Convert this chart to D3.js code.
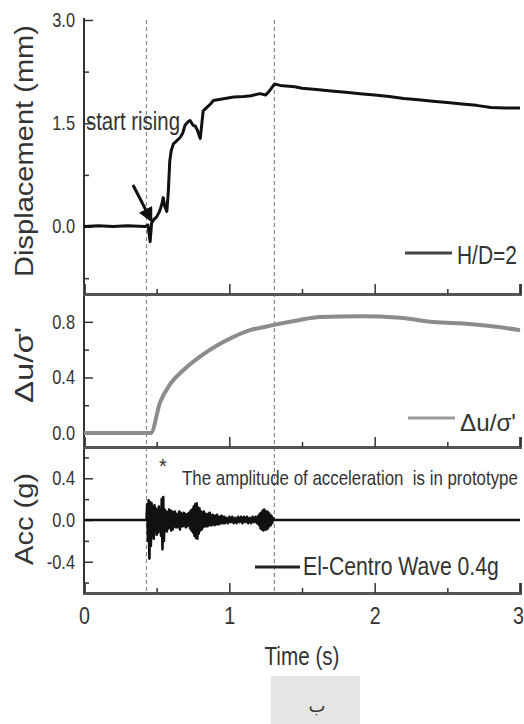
<!DOCTYPE html>
<html><head><meta charset="utf-8">
<script src="https://cdn.jsdelivr.net/npm/d3@7"></script>
<style>
html,body{margin:0;padding:0;background:#fff;}
svg{display:block;}
text{font-family:"Liberation Sans",Arial,sans-serif;fill:#333;}
</style></head>
<body>
<svg id="c" width="524" height="724"></svg>
<script>
// ---------- data ----------
const dispTime = [0,0.1,0.2,0.3,0.42,0.44,0.455,0.465,0.48,0.5,0.52,0.535,0.545,0.555,0.57,0.58,0.59,0.6,0.615,0.63,0.66,0.68,0.695,0.715,0.73,0.75,0.765,0.78,0.8,0.82,0.84,0.87,0.89,0.94,1.03,1.1,1.15,1.21,1.25,1.28,1.31,1.35,1.45,1.5,1.6,1.7,1.8,1.9,2.0,2.1,2.2,2.3,2.4,2.5,2.6,2.7,2.8,2.9,3.0];
const dispVal  = [0,0.01,0,0.01,0,0.02,-0.22,0.05,0.1,0.14,0.22,0.32,0.42,0.3,0.22,0.5,0.95,1.1,1.2,1.23,1.29,1.36,1.47,1.52,1.54,1.47,1.46,1.4,1.28,1.68,1.72,1.78,1.83,1.85,1.88,1.89,1.9,1.93,1.91,1.98,2.07,2.05,2.03,2.01,1.99,1.97,1.95,1.93,1.91,1.89,1.86,1.84,1.82,1.8,1.78,1.76,1.73,1.72,1.72];

const poreTime = [0,0.2,0.46,0.523,0.592,0.681,0.798,0.915,1.025,1.142,1.25,1.315,1.466,1.624,1.9,2.175,2.381,2.588,2.794,3.0];
const poreVal  = [0,0,0,0.22,0.35,0.45,0.55,0.63,0.69,0.74,0.765,0.78,0.81,0.835,0.84,0.83,0.8,0.79,0.77,0.74];

// acceleration record: [time (s), acc (g)]
const accSeries = [[0,0],[0.43,0],[0.435,0.15],[0.44,-0.2],[0.445,0.19],[0.45,-0.37],[0.455,0.17],[0.46,-0.25],[0.465,0.16],[0.47,-0.15],
[0.475,0.12],[0.48,-0.18],[0.485,0.14],[0.49,-0.1],[0.495,0.11],[0.5,-0.14],[0.505,0.09],[0.51,-0.12],[0.515,0.13],[0.52,-0.1],
[0.525,0.08],[0.53,-0.15],[0.535,0.2],[0.54,-0.28],[0.545,0.22],[0.55,-0.2],[0.555,0.1],[0.56,-0.09],[0.565,0.08],[0.57,-0.11],
[0.575,0.07],[0.58,-0.08],[0.585,0.1],[0.59,-0.07],[0.595,0.09],[0.6,-0.1],[0.605,0.08],[0.61,-0.09],[0.615,0.07],[0.62,-0.06],
[0.625,0.08],[0.63,-0.07],[0.635,0.06],[0.64,-0.07],[0.645,0.05],[0.65,-0.06],[0.655,0.08],[0.66,-0.09],[0.665,0.07],[0.67,-0.06],
[0.675,0.05],[0.68,-0.06],[0.685,0.07],[0.69,-0.05],[0.695,0.06],[0.7,-0.07],[0.705,0.05],[0.71,-0.06],[0.715,0.06],[0.72,-0.05],
[0.725,0.07],[0.73,-0.08],[0.735,0.09],[0.74,-0.1],[0.745,0.1],[0.75,-0.12],[0.755,0.13],[0.76,-0.15],[0.765,0.15],[0.77,-0.17],
[0.775,0.16],[0.78,-0.18],[0.785,0.12],[0.79,-0.13],[0.795,0.11],[0.8,-0.1],[0.805,0.08],[0.81,-0.09],[0.815,0.07],[0.82,-0.07],
[0.825,0.08],[0.83,-0.06],[0.835,0.06],[0.84,-0.06],[0.845,0.05],[0.85,-0.06],[0.855,0.06],[0.86,-0.05],[0.865,0.07],[0.87,-0.05],
[0.875,0.04],[0.88,-0.05],[0.885,0.05],[0.89,-0.04],[0.895,0.04],[0.9,-0.05],[0.905,0.04],[0.91,-0.04],[0.915,0.05],[0.92,-0.04],
[0.925,0.03],[0.93,-0.04],[0.935,0.03],[0.94,-0.03],[0.945,0.04],[0.95,-0.03],[0.955,0.03],[0.96,-0.03],[0.965,0.03],[0.97,-0.03],
[0.98,0.02],[0.99,-0.03],[1.0,0.03],[1.01,-0.02],[1.02,0.03],[1.03,-0.03],[1.04,0.02],[1.05,-0.03],[1.06,0.03],[1.07,-0.02],
[1.08,0.03],[1.09,-0.03],[1.1,0.03],[1.11,-0.02],[1.12,0.03],[1.13,-0.03],[1.14,0.02],[1.15,-0.03],[1.16,0.03],[1.17,-0.02],
[1.18,0.03],[1.19,-0.03],[1.2,0.04],[1.205,-0.05],[1.21,0.06],[1.215,-0.08],[1.22,0.07],[1.225,-0.09],[1.23,0.09],[1.235,-0.1],
[1.24,0.1],[1.245,-0.09],[1.25,0.08],[1.255,-0.09],[1.26,0.08],[1.265,-0.08],[1.27,0.07],[1.275,-0.06],[1.28,0.05],[1.285,-0.05],
[1.29,0.04],[1.295,-0.03],[1.3,0.02],[1.31,0],[3.0,0]];

const xTicks = [0,1,2,3];
const xMinor = [0.5,1.5,2.5];
const dispTicks = [0.0,1.5,3.0], dispMinor = [-0.75,0.75,2.25];
const poreTicks = [0.0,0.4,0.8], poreMinor = [0.2,0.6];
const accTicks = [-0.4,0.0,0.4], accMinor = [-0.6,-0.2,0.2,0.6];
const eventLines = [0.43,1.31];

// ---------- scales ----------
const svg = d3.select("#c");
const x = d3.scaleLinear().domain([0,3]).range([84,520]);
const yD = d3.scaleLinear().domain([-0.98,3.0]).range([294,20]);
const yP = d3.scaleLinear().domain([-0.1,1.0]).range([447,294]);
const yA = d3.scaleLinear().domain([-0.7,0.7]).range([593,447]);
const fmt1 = d => d.toFixed(1);
const SQ = 0.82; // condensed look

// dashed event lines
svg.selectAll(".ev").data(eventLines).enter().append("line")
  .attr("x1",d=>x(d)).attr("x2",d=>x(d)).attr("y1",20).attr("y2",592)
  .attr("stroke","#888").attr("stroke-width",1.2).attr("stroke-dasharray","4,3");

function yAxis(scale, ticks, minor){
  const g = svg.append("g").attr("transform","translate(84,0)");
  g.call(d3.axisLeft(scale).tickValues(ticks).tickSize(-9).tickPadding(9).tickFormat(fmt1));
  g.select(".domain").remove();
  g.selectAll(".tick line").attr("stroke","#333").attr("stroke-width",1.5);
  g.selectAll(".tick text").attr("font-size",20).attr("fill","#333")
    .style("font-family",'"Liberation Sans",Arial,sans-serif')
    .attr("x",-9/SQ).attr("transform",`scale(${SQ},1)`);
  const m = svg.append("g").attr("transform","translate(84,0)");
  m.call(d3.axisLeft(scale).tickValues(minor).tickSize(-5).tickFormat(""));
  m.select(".domain").remove();
  m.selectAll(".tick line").attr("stroke","#333").attr("stroke-width",1.5);
}
function xAxis(yPos, labels){
  const g = svg.append("g").attr("transform",`translate(0,${yPos})`);
  g.call(d3.axisBottom(x).tickValues(xTicks).tickSize(-10).tickPadding(14)
    .tickFormat(labels ? d3.format("d") : ""));
  g.select(".domain").attr("stroke","#555").attr("stroke-width",3);
  g.selectAll(".tick line").attr("stroke","#333").attr("stroke-width",1.5);
  g.selectAll(".tick text").attr("font-size",24).attr("fill","#333")
    .style("font-family",'"Liberation Sans",Arial,sans-serif')
    .attr("transform",`scale(${SQ},1)`);
  // keep the last label inside the frame edge
  g.selectAll(".tick text").filter(d=>d===3).attr("text-anchor","end").attr("x",3.5/SQ);
  const m = svg.append("g").attr("transform",`translate(0,${yPos})`);
  m.call(d3.axisBottom(x).tickValues(xMinor).tickSize(-5).tickFormat(""));
  m.select(".domain").remove();
  m.selectAll(".tick line").attr("stroke","#333").attr("stroke-width",1.5);
}

svg.append("line").attr("x1",84).attr("x2",84).attr("y1",18).attr("y2",594)
  .attr("stroke","#333").attr("stroke-width",2);

yAxis(yD, dispTicks, dispMinor);
yAxis(yP, poreTicks, poreMinor);
yAxis(yA, accTicks, accMinor);
xAxis(294,false); xAxis(447,false); xAxis(593,true);

// series
const lineD = d3.line().x((d,i)=>x(dispTime[i])).y(d=>yD(d));
svg.append("path").datum(dispVal).attr("d",lineD).attr("fill","none")
  .attr("stroke","#111").attr("stroke-width",3).attr("stroke-linejoin","round");
const lineP = d3.line().x((d,i)=>x(poreTime[i])).y(d=>yP(d)).curve(d3.curveMonotoneX);
svg.append("path").datum(poreVal).attr("d",lineP).attr("fill","none")
  .attr("stroke","#8c8c8c").attr("stroke-width",4);
const lineA = d3.line().x(d=>x(d[0])).y(d=>yA(d[1]));
svg.append("path").datum(accSeries).attr("d",lineA).attr("fill","none")
  .attr("stroke","#111").attr("stroke-width",2.6).attr("stroke-linejoin","round");

// text placed at (px,py) and horizontally scaled to a target width
function fitText(txt, px, py, size, width, opts={}){
  const t = svg.append("text").attr("font-size",size)
    .attr("text-anchor",opts.anchor||"start").attr("fill",opts.fill||"#333").text(txt);
  if (opts.pre) t.style("white-space","pre");
  const w = t.node().getComputedTextLength();
  const s = width / w;
  t.attr("transform",`translate(${px},${py})${opts.rot?` rotate(${opts.rot})`:""} scale(${s},1)`);
  return t;
}

// axis titles
fitText("Displacement (mm)",33,151,25,252,{anchor:"middle",rot:-90,fill:"#444"});
fitText("\u0394u/\u03c3'",33,365,25,76,{anchor:"middle",rot:-90,fill:"#444"});
fitText("Acc (g)",33,519,25,92,{anchor:"middle",rot:-90,fill:"#444"});
fitText("Time (s)",302,665,25,75,{anchor:"middle"});

// annotations
fitText("start rising",86,130,25,94);
svg.append("defs").append("marker").attr("id","ah").attr("viewBox","0 0 10 10")
  .attr("refX",8).attr("refY",5).attr("markerWidth",5).attr("markerHeight",5)
  .attr("orient","auto").append("path").attr("d","M0,0L10,5L0,10z").attr("fill","#111");
svg.append("line").attr("x1",133).attr("y1",185).attr("x2",151).attr("y2",220)
  .attr("stroke","#111").attr("stroke-width",3).attr("marker-end","url(#ah)");

// legends
svg.append("line").attr("x1",405).attr("x2",452).attr("y1",253).attr("y2",253)
  .attr("stroke","#444").attr("stroke-width",3);
fitText("H/D=2",457,264,25,60);
svg.append("line").attr("x1",408).attr("x2",455).attr("y1",418).attr("y2",418)
  .attr("stroke","#999").attr("stroke-width",3);
fitText("\u0394u/\u03c3'",460,431,23,56);
svg.append("line").attr("x1",255).attr("x2",300).attr("y1",567).attr("y2",567)
  .attr("stroke","#222").attr("stroke-width",3);
fitText("El-Centro Wave 0.4g",303,575,25,196);

svg.append("text").attr("x",163).attr("y",473).attr("text-anchor","middle").attr("font-size",20).text("*");
fitText("The amplitude of acceleration  is in prototype",182,485,20,336,{pre:true});

// bottom box
svg.append("rect").attr("x",271).attr("y",676).attr("width",89).attr("height",48).attr("fill","#e5e5e5");
svg.append("text").attr("x",317).attr("y",712).attr("text-anchor","middle").attr("font-size",18)
  .style("font-family",'"DejaVu Sans","Noto Sans",sans-serif').attr("fill","#111").text("\u0628");
</script>
</body></html>
